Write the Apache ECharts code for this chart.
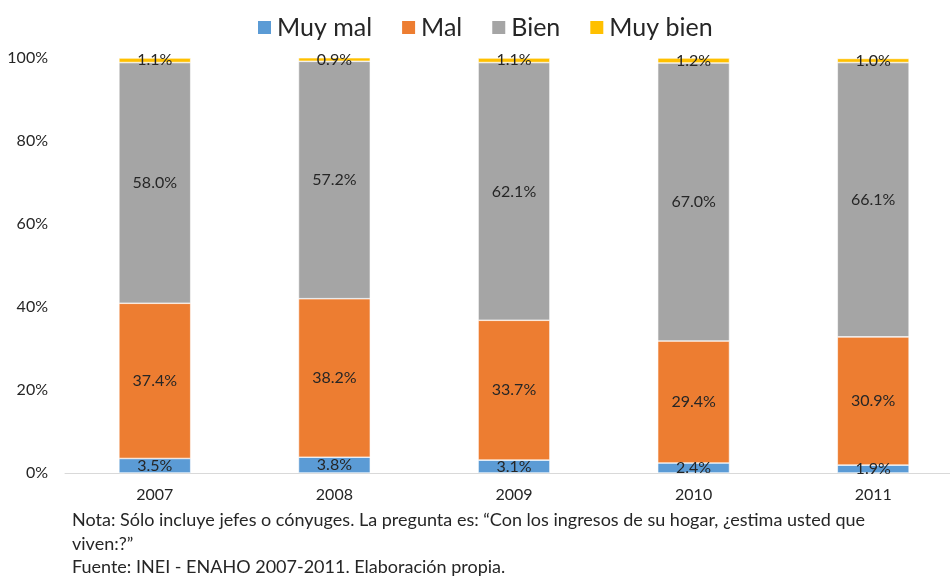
<!DOCTYPE html>
<html>
<head>
<meta charset="utf-8">
<script src="https://cdn.jsdelivr.net/npm/echarts@6/dist/echarts.min.js"></script>
<style>
  html, body { margin: 0; padding: 0; background: #fff; }
  #chart { width: 950px; height: 577px; }
</style>
</head>
<body>
<div id="chart"></div>
<script>
// categorias (años)
const years = ['2007', '2008', '2009', '2010', '2011']
// valores por serie (%)
const muyMal = [3.5, 3.8, 3.1, 2.4, 1.9]
const mal = [37.4, 38.2, 33.7, 29.4, 30.9]
const bien = [58.0, 57.2, 62.1, 67.0, 66.1]
const muyBien = [1.1, 0.9, 1.1, 1.2, 1.0]
const seriesNames = ['Muy mal', 'Mal', 'Bien', 'Muy bien']
const colors = ['#5B9BD5', '#ED7D31', '#A5A5A5', '#FFC000']
const notaLine1 = 'Nota: Sólo incluye jefes o cónyuges. La pregunta es: “Con los ingresos de su hogar, ¿estima usted que'
const notaLine2 = 'viven:?”'
const fuente = 'Fuente: INEI - ENAHO 2007-2011. Elaboración propia.'

const font = 'Lato, "Open Sans", sans-serif'
const textColor = '#262626'

const chart = echarts.init(document.getElementById('chart'))

const makeSeries = (name, data, i) => ({
    name: name,
    type: 'bar',
    stack: 'total',
    barWidth: '40%',
    data: data,
    itemStyle: {
        color: colors[i],
        borderColor: '#fff',
        borderWidth: 0.6
    },
    label: {
        show: true,
        position: 'inside',
        formatter: (p) => p.value.toFixed(1) + '%',
        color: textColor,
        fontFamily: font,
        fontSize: 16
    }
})

const option = {
    animation: false,
    color: colors,
    legend: {
        top: 10,
        left: 251,
        itemWidth: 15,
        itemHeight: 15,
        itemGap: 28,
        icon: 'rect',
        textStyle: {
            fontFamily: font,
            fontSize: 25,
            color: textColor
        },
        data: seriesNames
    },
    grid: {
        left: 65,
        top: 58,
        width: 898,
        bottom: 104,
        containLabel: false,
        outerBoundsMode: 'none'
    },
    xAxis: {
        type: 'category',
        data: years,
        axisLine: { lineStyle: { color: '#d9d9d9', width: 1 } },
        axisTick: { show: false },
        axisLabel: {
            color: textColor,
            fontFamily: font,
            fontSize: 16,
            margin: 14
        }
    },
    yAxis: {
        type: 'value',
        min: 0,
        max: 100,
        interval: 20,
        splitLine: { show: false },
        axisLine: { show: false },
        axisTick: { show: false },
        axisLabel: {
            formatter: '{value}%',
            color: textColor,
            fontFamily: font,
            fontSize: 16,
            margin: 17
        }
    },
    graphic: [
        { type: 'text', left: 72, top: 511, style: { text: notaLine1, font: '18px ' + font, fill: textColor } },
        { type: 'text', left: 72, top: 535, style: { text: notaLine2, font: '18px ' + font, fill: textColor } },
        { type: 'text', left: 72, top: 558, style: { text: fuente, font: '18px ' + font, fill: textColor } }
    ],
    series: [
        makeSeries(seriesNames[0], muyMal, 0),
        makeSeries(seriesNames[1], mal, 1),
        makeSeries(seriesNames[2], bien, 2),
        makeSeries(seriesNames[3], muyBien, 3)
    ]
}
chart.setOption(option)
</script>
</body>
</html>
